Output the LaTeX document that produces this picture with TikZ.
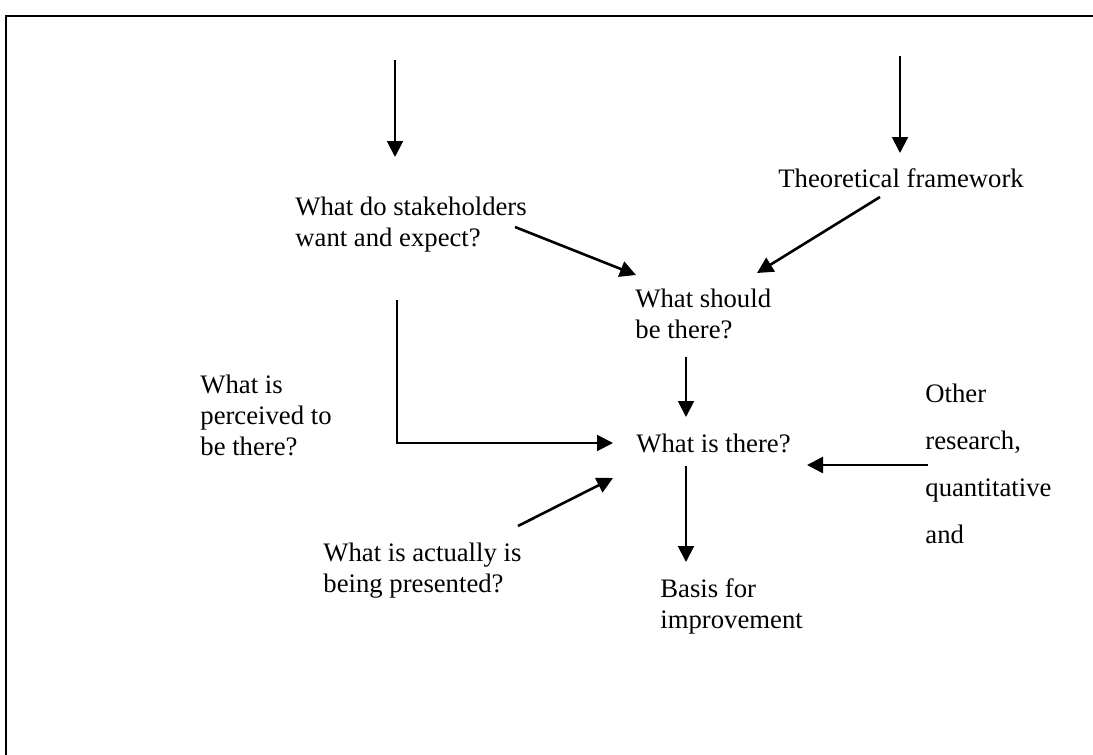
\documentclass[tikz,border=0pt]{standalone}
\usepackage{fontspec}
\setmainfont{Liberation Serif}
\usetikzlibrary{arrows.meta}
\begin{document}
\begin{tikzpicture}[x=0.5pt,y=-0.5pt,
  % text placed by the baseline of its last line
  txt/.style={anchor=base west, inner sep=0pt, align=left,
    font=\fontsize{13.35}{15.5}\selectfont},
  widetxt/.style={txt, font=\fontsize{13.35}{23.5}\selectfont},
  flow/.style={line width=1pt, -{Triangle[length=8pt,width=8pt]}},
  slant/.style={flow, line width=1.3pt}]
\useasboundingbox (0,0) rectangle (1093,755);
% frame
\draw[line width=1pt] (1093,16) -- (6,16) -- (6,755);

% text blocks
\node[txt] (stake) at (295,246) {What do stakeholders\\want and expect?};
\node[txt] (theory) at (778,187) {Theoretical framework};
\node[txt] (should) at (635,338) {What should\\be there?};
\node[txt] (perceived) at (200,455) {What is\\perceived to\\be there?};
\node[txt] (there) at (636,452) {What is there?};
\node[txt] (actual) at (323,592) {What is actually is\\being presented?};
\node[txt] (basis) at (660,628) {Basis for\\improvement};
\node[widetxt] (other) at (925,543) {Other\\research,\\quantitative\\and};

% connector end points
\coordinate (inA) at (395,60);
\coordinate (inAt) at (395,157);
\coordinate (inB) at (900,56);
\coordinate (inBt) at (900,153);
\coordinate (stakeOut) at (515,227);
\coordinate (shouldInL) at (636,275);
\coordinate (theoryOut) at (880,197);
\coordinate (shouldInR) at (757,273);
\coordinate (stakeDown) at (397,300);
\coordinate (bend) at (397,443);
\coordinate (thereInL) at (613,443);
\coordinate (shouldOut) at (686,357);
\coordinate (thereInT) at (686,417);
\coordinate (actualOut) at (518,526);
\coordinate (thereInLL) at (613,478);
\coordinate (thereOut) at (686,466);
\coordinate (basisIn) at (686,562);
\coordinate (otherOut) at (928,465);
\coordinate (thereInR) at (807,465);

% connectors
\draw[flow] (inA) -- (inAt);
\draw[flow] (inB) -- (inBt);
\draw[slant] (stakeOut) -- (shouldInL);
\draw[slant] (theoryOut) -- (shouldInR);
\draw[flow] (stakeDown) -- (bend) -- (thereInL);
\draw[flow] (shouldOut) -- (thereInT);
\draw[slant] (actualOut) -- (thereInLL);
\draw[flow] (thereOut) -- (basisIn);
\draw[slant] (otherOut) -- (thereInR);
\end{tikzpicture}
\end{document}
